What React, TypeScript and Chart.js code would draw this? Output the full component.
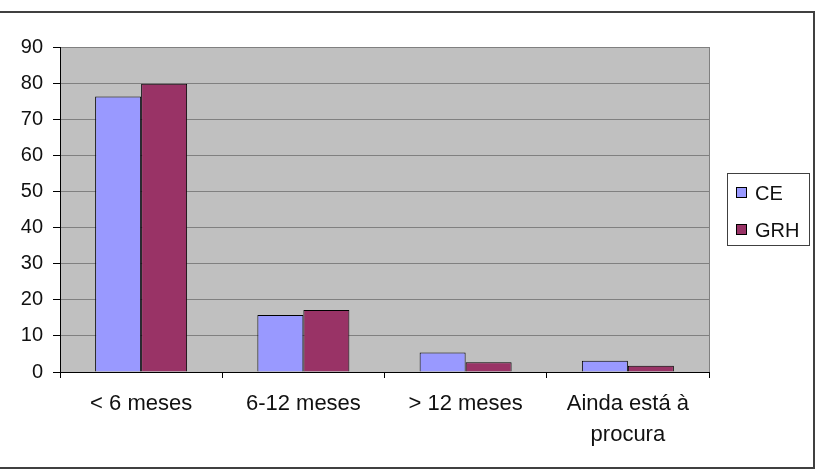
import React, { useEffect, useRef } from "react";
import { Chart, registerables } from "chart.js";

Chart.register(...registerables);

const categories: (string | string[])[] = ["< 6 meses", "6-12 meses", "> 12 meses", ["Ainda está à", "procura"]];
const seriesNames = ["CE", "GRH"];
const ceValues = [76.3, 15.8, 5.4, 3.1];
const grhValues = [79.8, 17.2, 2.7, 1.7];
const seriesColors = ["#9999FF", "#993366"];
const yMax = 90;
const yStep = 10;

const FONT = "'Liberation Sans', Arial, sans-serif";

const decorPlugin = {
  id: "decor",
  beforeDraw(chart: any) {
    const { ctx, chartArea } = chart;
    ctx.save();
    ctx.fillStyle = "#C0C0C0";
    ctx.fillRect(chartArea.left, chartArea.top, chartArea.right - chartArea.left, chartArea.bottom - chartArea.top);
    ctx.restore();
  },
  afterDraw(chart: any) {
    const { ctx, chartArea } = chart;
    ctx.save();
    ctx.strokeStyle = "#808080";
    ctx.lineWidth = 1;
    ctx.beginPath();
    ctx.moveTo(Math.round(chartArea.right) + 0.5, chartArea.top);
    ctx.lineTo(Math.round(chartArea.right) + 0.5, chartArea.bottom);
    ctx.stroke();
    ctx.strokeStyle = "#404040";
    ctx.lineWidth = 2;
    ctx.beginPath();
    ctx.moveTo(0, 12);
    ctx.lineTo(814, 12);
    ctx.lineTo(814, 468);
    ctx.lineTo(0, 468);
    ctx.stroke();
    const lx = 727, ly = 173, lw = 82, lh = 72;
    ctx.lineWidth = 1;
    ctx.strokeStyle = "#404040";
    ctx.strokeRect(lx + 0.5, ly + 0.5, lw, lh);
    ctx.font = `20px ${FONT}`;
    ctx.textBaseline = "middle";
    ctx.textAlign = "left";
    chart.data.datasets.forEach((ds: any, i: number) => {
      const cy = 193 + i * 37;
      ctx.fillStyle = ds.backgroundColor;
      ctx.fillRect(736.5, cy - 5.5, 10, 10);
      ctx.strokeStyle = "#000";
      ctx.strokeRect(736.5, cy - 5.5, 10, 10);
      ctx.fillStyle = "#111";
      ctx.fillText(ds.label, 755, cy + 1);
    });
    ctx.restore();
  },
};

export default function App() {
  const ref = useRef<HTMLCanvasElement>(null);
  useEffect(() => {
    document.body.style.margin = "0";
    const chart = new Chart(ref.current!, {
      type: "bar",
      data: {
        labels: categories,
        datasets: [
          { label: seriesNames[0], data: ceValues, backgroundColor: seriesColors[0], borderColor: "#000", borderWidth: 1 },
          { label: seriesNames[1], data: grhValues, backgroundColor: seriesColors[1], borderColor: "#000", borderWidth: 1 },
        ],
      },
      options: {
        animation: false,
        responsive: false,
        layout: { padding: { top: 47, right: 112, bottom: 0, left: 0 } },
        plugins: { legend: { display: false }, tooltip: { enabled: false } },
        datasets: { bar: { barPercentage: 1, categoryPercentage: 0.567 } },
        scales: {
          x: {
            grid: { offset: true, drawOnChartArea: false, tickLength: 6, tickColor: "#000" },
            border: { color: "#000", width: 1 },
            ticks: { color: "#111", font: { family: FONT, size: 22, lineHeight: 1.4 }, padding: 11, maxRotation: 0 },
            afterFit: (s: any) => { s.height = 99; },
          },
          y: {
            min: 0,
            max: yMax,
            grid: { color: "#808080", tickLength: 7, tickColor: "#000" },
            border: { color: "#000", width: 1 },
            ticks: { stepSize: yStep, color: "#111", font: { family: FONT, size: 20 }, padding: 10 },
            afterFit: (s: any) => { s.width = 60; },
          },
        },
      },
      plugins: [decorPlugin],
    });
    return () => chart.destroy();
  }, []);
  return <canvas ref={ref} width={821} height={471} style={{ display: "block" }} />;
}
